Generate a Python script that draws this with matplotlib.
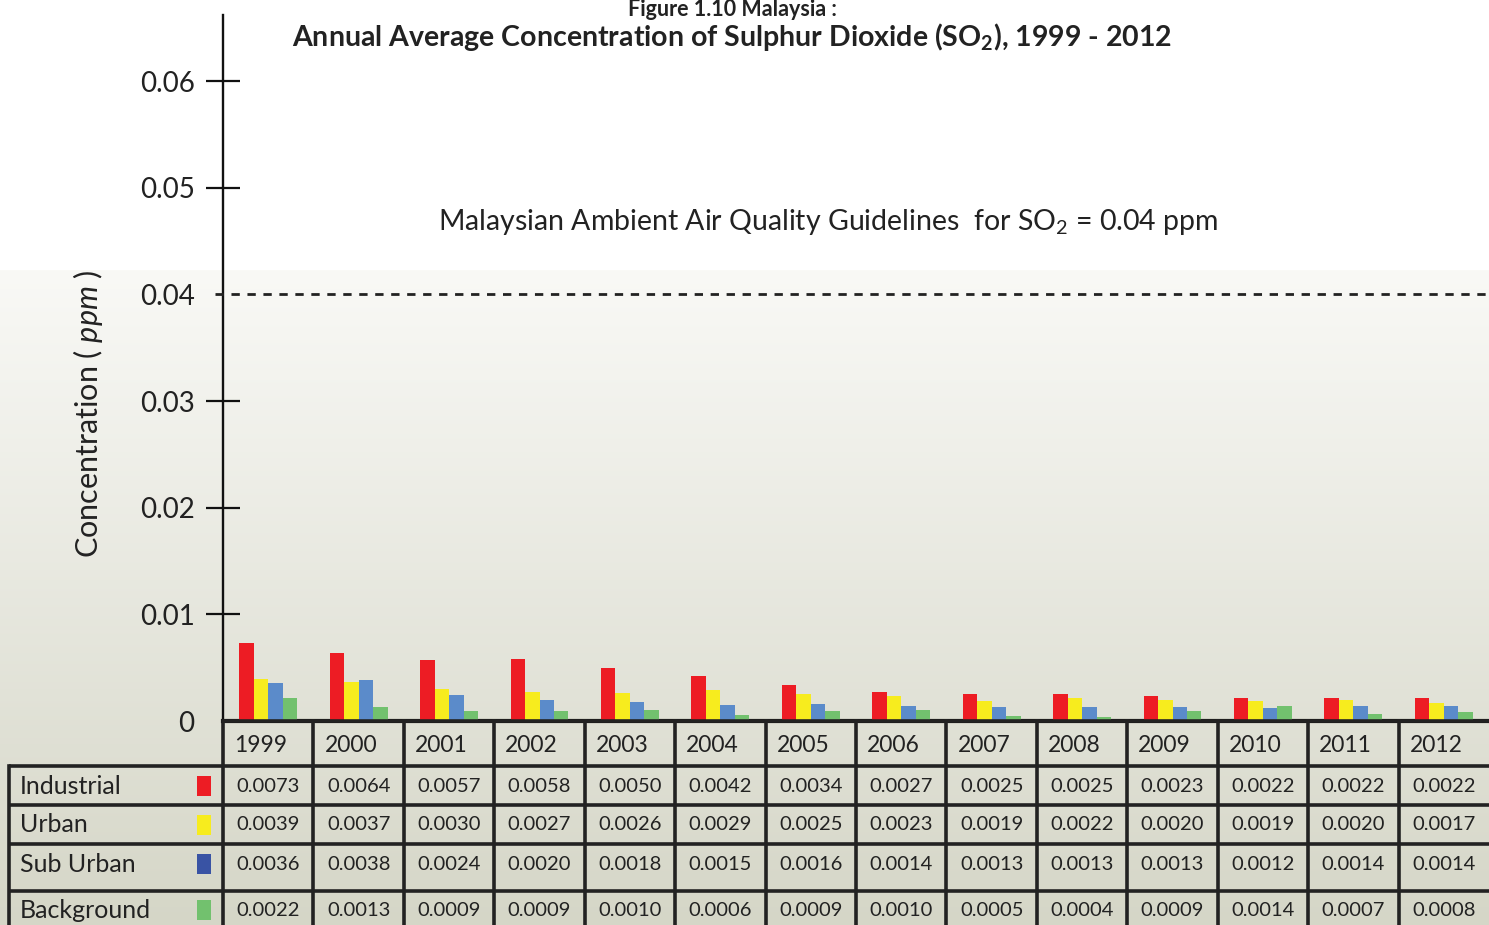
import numpy as np
import matplotlib
matplotlib.use("Agg")
import matplotlib.pyplot as plt
from matplotlib.patches import Rectangle

plt.rcParams['font.family'] = ['Lato', 'DejaVu Sans']
plt.rcParams['mathtext.fontset'] = 'custom'
plt.rcParams['mathtext.rm'] = 'Lato'
plt.rcParams['mathtext.it'] = 'Lato:italic'
plt.rcParams['mathtext.bf'] = 'Lato:bold'
plt.rcParams['lines.scale_dashes'] = False

# ---------------- data ----------------
years = ["1999", "2000", "2001", "2002", "2003", "2004", "2005",
         "2006", "2007", "2008", "2009", "2010", "2011", "2012"]
series_names = ["Industrial", "Urban", "Sub Urban", "Background"]
industrial = [0.0073, 0.0064, 0.0057, 0.0058, 0.0050, 0.0042, 0.0034,
              0.0027, 0.0025, 0.0025, 0.0023, 0.0022, 0.0022, 0.0022]
urban = [0.0039, 0.0037, 0.0030, 0.0027, 0.0026, 0.0029, 0.0025,
         0.0023, 0.0019, 0.0022, 0.0020, 0.0019, 0.0020, 0.0017]
sub_urban = [0.0036, 0.0038, 0.0024, 0.0020, 0.0018, 0.0015, 0.0016,
             0.0014, 0.0013, 0.0013, 0.0013, 0.0012, 0.0014, 0.0014]
background = [0.0022, 0.0013, 0.0009, 0.0009, 0.0010, 0.0006, 0.0009,
              0.0010, 0.0005, 0.0004, 0.0009, 0.0014, 0.0007, 0.0008]
guideline = 0.04
y_ticks = [0, 0.01, 0.02, 0.03, 0.04, 0.05, 0.06]
y_tick_labels = ["0", "0.01", "0.02", "0.03", "0.04", "0.05", "0.06"]

bar_colors = ["#ed1c24", "#f7ec1e", "#5b8bca", "#72c16e"]
swatch_colors = ["#ed1c24", "#f7ec1e", "#3953a4", "#72c16e"]

# ---------------- figure ----------------
W, H = 1489, 925
fig = plt.figure(figsize=(W / 100, H / 100), dpi=100)

# background gradient
bg = fig.add_axes([0, 0, 1, 1], zorder=0)
rows = np.arange(H)
top_c = np.array([249, 249, 246]) / 255.0
bot_c = np.array([213, 214, 199]) / 255.0
grad = np.ones((H, 1, 3))
start = 270
t = np.clip((rows - start) / (H - start), 0, 1)[:, None]
g = top_c[None, :] * (1 - t) + bot_c[None, :] * t
g[rows < start] = [1, 1, 1]
grad[:, 0, :] = g
bg.imshow(grad, aspect='auto', extent=[0, 1, 0, 1], origin='upper')
bg.axis('off')

# main axes
ax_left, ax_right, ax_top, ax_bot = 223, 1489, 15, 721
ax = fig.add_axes([ax_left / W, 1 - ax_bot / H, (ax_right - ax_left) / W,
                   (ax_bot - ax_top) / H], zorder=2)
ax.patch.set_alpha(0)
n = len(years)
x = np.arange(n) + 0.5
bw = 0.16
offsets = [-1.5 * bw, -0.5 * bw, 0.5 * bw, 1.5 * bw]
for vals, c, off in zip([industrial, urban, sub_urban, background], bar_colors, offsets):
    ax.bar(x + off, vals, width=bw, color=c, linewidth=0, zorder=3)

ax.set_xlim(0, n)
ax.set_ylim(0, 0.0662)
ax.set_xticks([])
ax.set_yticks(y_ticks)
ax.set_yticklabels(y_tick_labels, fontsize=20, color='#222222')
ax.tick_params(axis='y', direction='inout', length=25, width=1.6, color='#111111')
for i, tk in enumerate(ax.yaxis.get_major_ticks()):
    tk.label1.set_horizontalalignment('right')
    if y_ticks[i] in (0, guideline):
        tk.tick1line.set_visible(False)
ax.yaxis.set_tick_params(pad=8)
for s in ['top', 'right']:
    ax.spines[s].set_visible(False)
ax.spines['left'].set_linewidth(1.7)
ax.spines['bottom'].set_linewidth(3)
ax.spines['left'].set_color('#111111')
ax.spines['bottom'].set_color('#111111')

# guideline (dashed) extending a bit to left of axis
ax.axhline(guideline, xmin=-8 / (ax_right - ax_left), xmax=1, color='#222222',
           lw=2.0, dashes=(6, 5.5), clip_on=False, zorder=4)
ax.text(0.5 * n - 0.31, 0.0468, "Malaysian Ambient Air Quality Guidelines  for SO$_2$ = 0.04 ppm",
        ha='center', va='center', fontsize=20.5, color='#222222')

ax.set_ylabel("Concentration ( $\\it{ppm}$ )", fontsize=22, color='#222222')
ax.yaxis.set_label_coords(-118 / (ax_right - ax_left), 0.436)

# titles
fig.text(732 / W, 1 + 1 / H, "Figure 1.10 Malaysia :", ha='center', va='top',
         fontsize=15.5, fontweight='bold', color='#222222')
fig.text(732 / W, 1 - 37 / H, "Annual Average Concentration of Sulphur Dioxide (SO$_\\mathbf{2}$), 1999 - 2012",
         ha='center', va='center', fontsize=20.5, fontweight='bold', color='#222222')

# ---------------- table (overlay in pixel coordinates) ----------------
ov = fig.add_axes([0, 0, 1, 1], zorder=3)
ov.set_xlim(0, W)
ov.set_ylim(H, 0)
ov.axis('off')
ov.patch.set_alpha(0)

colw = (ax_right - ax_left) / n
col_edges = [ax_left + i * colw for i in range(n + 1)]
row_edges = [721, 766, 805, 844, 891, 930]
row_text_y = [745, 786, 825, 864, 910]
lc = '#222222'
lw = 2.6
# horizontal lines
ov.plot([ax_left, W], [row_edges[0]] * 2, color=lc, lw=lw, solid_capstyle='butt')
for yy in row_edges[1:5]:
    ov.plot([9, W], [yy, yy], color=lc, lw=lw, solid_capstyle='butt')
# vertical lines
ov.plot([9, 9], [row_edges[1], H], color=lc, lw=lw)
for xx in col_edges[:-1]:
    ov.plot([xx, xx], [row_edges[0], H], color=lc, lw=lw)

# year labels
for i, yr in enumerate(years):
    ov.text(col_edges[i] + 11, row_text_y[0], yr, ha='left', va='center',
            fontsize=16.5, color='#222222')

table_vals = [industrial, urban, sub_urban, background]
for r, (name, vals, sc) in enumerate(zip(series_names, table_vals, swatch_colors)):
    yc = row_text_y[r + 1]
    ov.text(20, yc, name, ha='left', va='center', fontsize=18, color='#222222')
    ov.add_patch(Rectangle((197, yc - 10), 14, 20, color=sc, lw=0))
    for i, v in enumerate(vals):
        ov.text((col_edges[i] + col_edges[i + 1]) / 2, yc, f"{v:.4f}",
                ha='center', va='center', fontsize=14.5, color='#222222')

fig.savefig("out.png", dpi=100)
